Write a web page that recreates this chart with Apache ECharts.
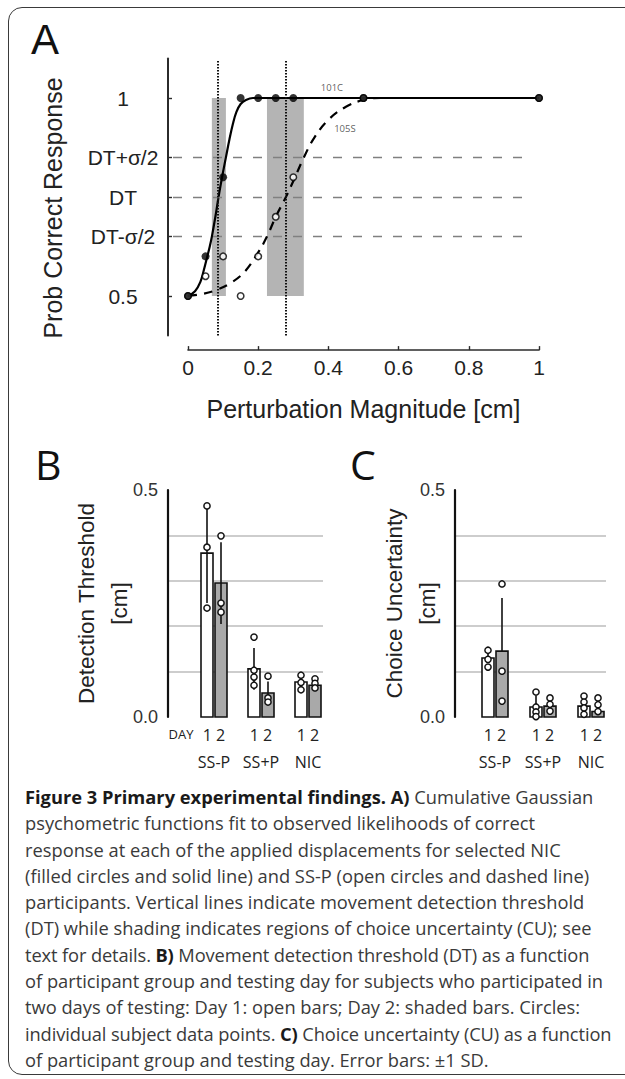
<!DOCTYPE html>
<html><head><meta charset="utf-8">
<script src="https://cdn.jsdelivr.net/npm/echarts@6/dist/echarts.min.js"></script>
<style>
html,body{margin:0;padding:0;background:#fff;}
#wrap{position:relative;width:625px;height:1079px;overflow:hidden;background:#fff;}
#chart{position:absolute;left:0;top:0;width:625px;height:1079px;}
#frame{position:absolute;left:8px;top:7px;width:700px;height:1068px;border:1.6px solid #3a3a3a;border-radius:14px;box-sizing:border-box;pointer-events:none;}
#caption{position:absolute;left:25px;top:784px;font-family:'Open Sans',sans-serif;font-size:18.3px;line-height:26.3px;color:#3a3a3a;white-space:nowrap;}
#caption b{color:#1a1a1a;font-weight:700;}
#caption .tight{letter-spacing:-0.12px;}
</style></head>
<body>
<div id="wrap">
<div id="chart"></div>
<div id="frame"></div>
<div id="caption">
<b>Figure 3 Primary experimental findings. A)</b> Cumulative Gaussian<br>
psychometric functions fit to observed likelihoods of correct<br>
response at each of the applied displacements for selected NIC<br>
(filled circles and solid line) and SS-P (open circles and dashed line)<br>
participants. Vertical lines indicate movement detection threshold<br>
(DT) while shading indicates regions of choice uncertainty (CU); see<br>
<span class="tight">text for details. <b>B)</b> Movement detection threshold (DT) as a function</span><br>
of participant group and testing day for subjects who participated in<br>
two days of testing: Day 1: open bars; Day 2: shaded bars. Circles:<br>
<span class="tight">individual subject data points. <b>C)</b> Choice uncertainty (CU) as a function</span><br>
of participant group and testing day. Error bars: ±1 SD.
</div>
</div>
<script>
// ---------------- Panel A data ----------------
const magnitude = [0, 0.05, 0.1, 0.15, 0.2, 0.25, 0.3, 0.5, 1.0];
const nicObserved = [0.5, 0.6, 0.8, 1, 1, 1, 1, 1, 1];
const sspObserved = [0.5, 0.55, 0.6, 0.5, 0.6, 0.7, 0.8, 1, 1];
const nicFitX = [0, 0.02, 0.035, 0.045, 0.055, 0.062, 0.068, 0.078, 0.087, 0.097, 0.108, 0.118, 0.128, 0.138, 0.15, 0.165, 0.185, 0.3, 0.5, 1.0];
const nicFitY = [0.5, 0.512, 0.535, 0.565, 0.6, 0.625, 0.65, 0.7, 0.75, 0.8, 0.85, 0.895, 0.935, 0.965, 0.985, 0.995, 1, 1, 1, 1];
const sspFitX = [0, 0.04, 0.08, 0.12, 0.16, 0.2, 0.225, 0.25, 0.279, 0.305, 0.33, 0.36, 0.4, 0.45, 0.5, 0.55, 0.6];
const sspFitY = [0.5, 0.505, 0.515, 0.532, 0.56, 0.61, 0.65, 0.7, 0.75, 0.8, 0.85, 0.9, 0.945, 0.978, 0.995, 1, 1];
const yTickValues = [0.5, 0.65, 0.75, 0.85, 1];
const yTickLabels = ['0.5', 'DT-σ/2', 'DT', 'DT+σ/2', '1'];
const guideLevels = [0.65, 0.75, 0.85];
const detectionThresholds = [0.0855, 0.279];
const uncertaintyRegions = [[0.068, 0.108], [0.225, 0.33]];
const curveTags = ['101C', '105S'];
const curveTagPos = [[0.41, 1.027], [0.447, 0.922]];

// ---------------- Panels B & C data ----------------
const groups = ['SS-P', 'SS+P', 'NIC'];
const dtDay1Mean = [0.361, 0.106, 0.077];
const dtDay1Sd = [0.11, 0.046, 0.015];
const dtDay1Subjects = [[0.465, 0.374, 0.24], [0.176, 0.103, 0.088, 0.07], [0.092, 0.076, 0.06]];
const dtDay2Mean = [0.295, 0.053, 0.07];
const dtDay2Sd = [0.09, 0.025, 0.012];
const dtDay2Subjects = [[0.399, 0.251, 0.231], [0.09, 0.042, 0.033], [0.084, 0.074, 0.064]];
const cuDay1Mean = [0.13, 0.022, 0.024];
const cuDay1Sd = [0.018, 0.024, 0.02];
const cuDay1Subjects = [[0.147, 0.127, 0.11], [0.055, 0.022, 0.011, 0.001], [0.046, 0.033, 0.02, 0.006]];
const cuDay2Mean = [0.145, 0.024, 0.012];
const cuDay2Sd = [0.117, 0.016, 0.026];
const cuDay2Subjects = [[0.293, 0.101, 0.035], [0.042, 0.028, 0.013], [0.042, 0.027, 0.012]];
const barTickLabels = [0, 0.5];
const dayRowLabel = 'DAY';
const dayPairLabel = '1 2';

// ---------------- layout / style constants ----------------
const FONT = "'Liberation Sans', Arial, sans-serif";
const TXT = '#222';
const AX = '#2b2b2b';
const A_LEFT = 168, A_X0 = 188, A_X1 = 539, A_TOP = 58.4, A_H = 277.2;
const xPerPx = 1 / (A_X1 - A_X0);
const aMin = -(A_X0 - A_LEFT) * xPerPx;
const guideFrom = -15 * xPerPx, guideTo = (530 - A_X0) * xPerPx;

const chart = echarts.init(document.getElementById('chart'), null, {renderer: 'svg', width: 625, height: 1079});

function zip(xs, ys) { return xs.map((x, i) => [x, ys[i]]); }

function barPanelSeries(xIdx, yIdx, means, sds, subjects, dxPx, fill, errorOnTop) {
  return {
    type: 'custom', xAxisIndex: xIdx, yAxisIndex: yIdx, z: 3, silent: true,
    data: means.map((m, i) => [i, m, sds[i]]),
    renderItem: function (params, api) {
      const i = api.value(0), m = api.value(1), sd = api.value(2);
      const base = api.coord([i, 0]);
      const top = api.coord([i, m]);
      const cx = base[0] + dxPx;
      const hi = api.coord([i, m + sd])[1];
      const lo = api.coord([i, Math.max(0, m - sd)])[1];
      const bar = {type: 'rect', shape: {x: cx - 6, y: top[1], width: 12, height: base[1] - top[1]},
        style: {fill: fill, stroke: '#111', lineWidth: 1.6}};
      const err = {type: 'line', shape: {x1: cx, y1: hi, x2: cx, y2: lo}, style: {stroke: '#111', lineWidth: 1.6}};
      const dots = subjects[i].map(v => ({type: 'circle', shape: {cx: cx, cy: api.coord([i, v])[1], r: 3.1},
        style: {fill: '#fff', stroke: '#111', lineWidth: 1.5}}));
      const children = errorOnTop ? [bar, err].concat(dots) : [err, bar].concat(dots);
      return {type: 'group', children: children};
    }
  };
}

function barAxes(gridIdx, axisLeft, firstCenter, spacing, right, withDay) {
  const min = (axisLeft - firstCenter) / spacing;
  const max = (right - firstCenter) / spacing;
  const dayVals = [0, 1, 2];
  const dayTexts = [dayPairLabel, dayPairLabel, dayPairLabel];
  if (withDay) { dayVals.unshift(-33 / spacing); dayTexts.unshift('{s|' + dayRowLabel + '}'); }
  const common = {type: 'value', gridIndex: gridIdx, min: min, max: max, position: 'bottom',
    axisLine: {show: false, onZero: false}, axisTick: {show: false}, splitLine: {show: false}};
  return [
    Object.assign({}, common, {
      axisLabel: {customValues: dayVals, margin: 10, color: TXT, fontFamily: "'Open Sans', sans-serif", fontSize: 16,
        formatter: v => { const k = dayVals.findIndex(d => Math.abs(d - v) < 1e-6); return k < 0 ? '' : dayTexts[k]; },
        rich: {s: {fontSize: 13, fontFamily: "'Open Sans', sans-serif", color: TXT}}}
    }),
    Object.assign({}, common, {
      offset: 27,
      axisLabel: {customValues: [0, 1, 2], margin: 10, color: TXT, fontFamily: "'Open Sans', sans-serif", fontSize: 16,
        formatter: v => groups[Math.round(v)]}
    })
  ];
}

function barYAxis(gridIdx, name, nameGap) {
  return {
    type: 'value', gridIndex: gridIdx, min: 0, max: 0.5, interval: 0.1,
    axisLine: {show: true, onZero: false, lineStyle: {color: '#111', width: 2.2}},
    axisTick: {show: false},
    axisLabel: {customValues: barTickLabels, formatter: v => v.toFixed(1), margin: 10, color: '#333', fontFamily: FONT, fontSize: 18},
    splitLine: {show: true, showMinLine: false, showMaxLine: false, lineStyle: {color: '#bdbdbd', width: 1.6}},
    name: name, nameLocation: 'middle', nameGap: nameGap, nameMoveOverlap: false,
    nameTextStyle: {color: TXT, fontFamily: FONT, fontSize: 22.5, lineHeight: 33}
  };
}

const option = {
  animation: false,
  backgroundColor: 'transparent',
  grid: [
    {left: A_LEFT, top: A_TOP, width: A_X1 - A_LEFT, height: A_H, outerBoundsMode: 'none'},
    {left: A_X0, top: A_TOP, width: A_X1 - A_X0, height: A_H, outerBoundsMode: 'none'},
    {left: 168, top: 490, width: 155, height: 227, outerBoundsMode: 'none'},
    {left: 455, top: 490, width: 151, height: 227, outerBoundsMode: 'none'}
  ],
  xAxis: [
    {type: 'value', gridIndex: 0, min: aMin, max: 1, show: false},
    {type: 'value', gridIndex: 1, min: 0, max: 1, interval: 0.2, offset: 14.5,
      axisLine: {show: true, onZero: false, lineStyle: {color: AX, width: 1.6}},
      axisTick: {show: true, inside: true, length: 4, lineStyle: {color: AX, width: 1.4}},
      axisLabel: {margin: 7, color: TXT, fontFamily: FONT, fontSize: 21},
      splitLine: {show: false},
      name: 'Perturbation Magnitude [cm]', nameLocation: 'middle', nameGap: 46, nameMoveOverlap: false,
      nameTextStyle: {color: TXT, fontFamily: FONT, fontSize: 25}}
  ].concat(barAxes(2, 168, 214, 47, 323, true)).concat(barAxes(3, 455, 495, 48, 606, false)),
  yAxis: [
    {type: 'value', gridIndex: 0, min: 0.4, max: 1.1,
      axisLine: {show: true, onZero: false, lineStyle: {color: AX, width: 2}},
      axisTick: {show: true, inside: true, length: 4, customValues: yTickValues, lineStyle: {color: AX, width: 1.4}},
      axisLabel: {customValues: yTickValues, align: 'center', margin: 45, color: TXT, fontFamily: FONT, fontSize: 21,
        formatter: v => { const k = yTickValues.findIndex(d => Math.abs(d - v) < 1e-6); return k < 0 ? '' : yTickLabels[k]; }},
      splitLine: {show: false},
      name: 'Prob Correct Response', nameLocation: 'middle', nameGap: 103, nameMoveOverlap: false,
      nameTextStyle: {color: TXT, fontFamily: FONT, fontSize: 25, padding: [0, 22, 0, 0]}},
    {type: 'value', gridIndex: 1, min: 0.4, max: 1.1, show: false},
    barYAxis(2, 'Detection Threshold\n[cm]', 32),
    barYAxis(3, 'Choice Uncertainty\n[cm]', 11)
  ],
  series: [
    {
      name: 'guides', type: 'line', xAxisIndex: 0, yAxisIndex: 0, data: [], silent: true, z: 1,
      markArea: {silent: true, itemStyle: {color: '#b4b4b4', opacity: 1}, z: 1,
        data: uncertaintyRegions.map(r => [{coord: [r[0], 0.5]}, {coord: [r[1], 1]}])},
      markLine: {silent: true, symbol: ['none', 'none'], label: {show: false}, animation: false,
        data: guideLevels.map(l => [{coord: [guideFrom, l], lineStyle: {color: '#808080', width: 1.3, type: [9, 11]}}, {coord: [guideTo, l]}])
          .concat(detectionThresholds.map(t => [{coord: [t, 0.4], lineStyle: {color: '#111', width: 2, type: [1.6, 1.4]}}, {coord: [t, 1.096]}]))}
    },
    {name: 'NIC fit', type: 'line', xAxisIndex: 0, yAxisIndex: 0, data: zip(nicFitX, nicFitY), smooth: 0.4,
      showSymbol: false, lineStyle: {color: '#000', width: 2.2}, z: 3, silent: true},
    {name: 'SS-P fit', type: 'line', xAxisIndex: 0, yAxisIndex: 0, data: zip(sspFitX, sspFitY), smooth: 0.4,
      showSymbol: false, lineStyle: {color: '#000', width: 2.2, type: [9, 7]}, z: 3, silent: true},
    {name: 'SS-P observed', type: 'scatter', xAxisIndex: 0, yAxisIndex: 0, data: zip(magnitude, sspObserved),
      symbol: 'circle', symbolSize: 6.5, itemStyle: {color: '#fff', borderColor: '#000', borderWidth: 1.5}, z: 4, silent: true},
    {name: 'NIC observed', type: 'scatter', xAxisIndex: 0, yAxisIndex: 0, data: zip(magnitude, nicObserved),
      symbol: 'circle', symbolSize: 8, itemStyle: {color: '#000'}, z: 5, silent: true},
    {name: 'tags', type: 'scatter', xAxisIndex: 0, yAxisIndex: 0, symbolSize: 0, silent: true, z: 5,
      data: curveTags.map((t, i) => ({value: curveTagPos[i], name: t})),
      label: {show: true, position: 'inside', formatter: p => p.name, color: '#333', fontFamily: "'Open Sans', sans-serif", fontSize: 9.5}},
    barPanelSeries(2, 2, dtDay1Mean, dtDay1Sd, dtDay1Subjects, -7, '#ffffff', true),
    barPanelSeries(2, 2, dtDay2Mean, dtDay2Sd, dtDay2Subjects, 7, '#a9a9a9', true),
    barPanelSeries(4, 3, cuDay1Mean, cuDay1Sd, cuDay1Subjects, -7, '#ffffff', false),
    barPanelSeries(4, 3, cuDay2Mean, cuDay2Sd, cuDay2Subjects, 7, '#a9a9a9', false)
  ],
  graphic: [
    {type: 'text', left: 31, top: 18, style: {text: 'A', font: "42px 'Liberation Sans', Arial, sans-serif", fill: '#111'}},
    {type: 'text', left: 35, top: 443, style: {text: 'B', font: "41px 'Open Sans', sans-serif", fill: '#111'}},
    {type: 'text', left: 350, top: 443, style: {text: 'C', font: "41px 'Open Sans', sans-serif", fill: '#111'}}
  ]
};
chart.setOption(option);
</script>
</body></html>
